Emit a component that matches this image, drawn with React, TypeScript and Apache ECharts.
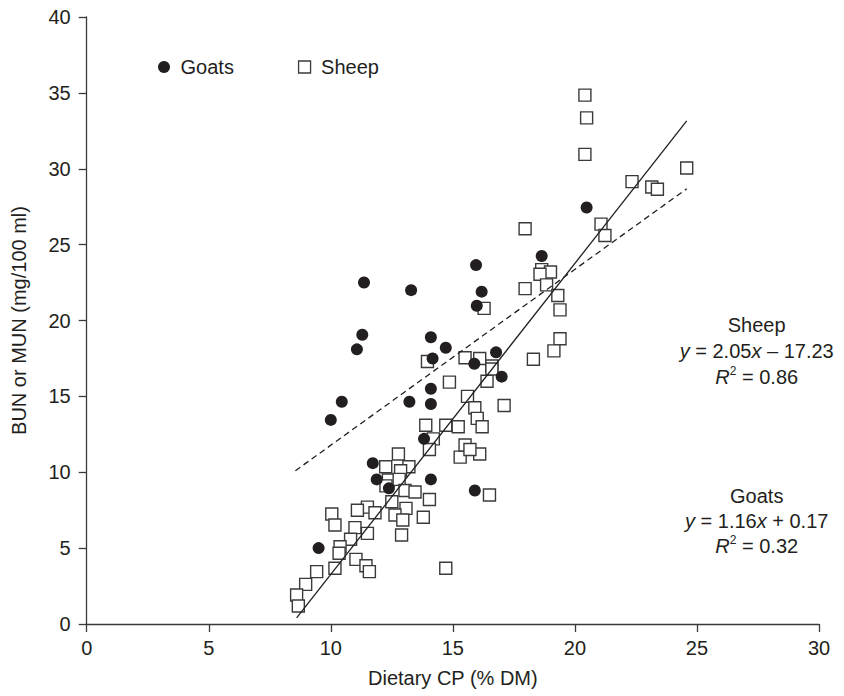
import React, { useEffect, useRef } from "react";
import * as echarts from "echarts";

// Dietary CP (% DM), BUN or MUN (mg/100 ml)
const goats: [number, number][] = [
  [9.5, 5.0], [10.0, 13.45], [10.45, 14.65], [11.07, 18.1], [11.29, 19.06],
  [11.36, 22.5], [11.72, 10.6], [11.88, 9.53], [12.38, 8.94], [13.22, 14.65],
  [13.29, 22.0], [13.82, 12.2], [14.1, 18.9], [14.17, 17.5], [14.1, 15.5],
  [14.1, 14.5], [14.1, 9.53], [14.71, 18.2], [15.88, 17.15], [15.95, 23.65],
  [15.98, 20.97], [16.18, 21.9], [15.9, 8.8], [16.77, 17.9], [17.0, 16.3],
  [18.64, 24.25], [20.48, 27.45],
];

const sheep: [number, number][] = [
  [20.41, 34.85], [20.48, 33.35], [20.41, 30.95], [24.58, 30.05], [22.34, 29.15],
  [23.15, 28.8], [23.38, 28.65], [17.96, 26.05], [21.07, 26.35], [21.23, 25.6],
  [18.64, 23.35], [19.0, 23.2], [18.57, 23.05], [18.84, 22.35], [17.96, 22.1],
  [19.3, 21.65], [19.39, 20.7], [16.28, 20.8], [19.39, 18.8], [19.14, 18.0],
  [18.3, 17.45], [15.5, 17.55], [16.1, 17.5], [16.6, 17.0], [13.96, 17.3],
  [14.86, 15.94], [15.6, 15.0], [15.9, 14.25], [16.0, 13.55], [16.2, 13.0],
  [16.4, 16.0], [16.6, 16.8], [17.1, 14.4], [16.1, 11.2], [15.3, 11.0],
  [15.5, 11.8], [15.7, 11.5], [16.5, 8.5],
  [13.89, 13.1], [14.71, 13.1], [15.22, 13.0], [14.2, 12.2], [14.04, 11.5],
  [12.77, 11.2], [12.25, 10.36], [13.2, 10.36], [12.86, 10.1], [12.36, 9.49],
  [12.8, 9.53], [12.26, 9.1], [13.04, 8.8], [13.45, 8.7], [14.04, 8.2],
  [12.5, 8.06], [11.5, 7.7], [11.09, 7.5], [11.81, 7.33], [13.08, 7.62],
  [12.63, 7.18], [12.95, 6.85], [10.04, 7.25], [10.17, 6.52], [13.79, 7.03],
  [10.99, 6.35], [11.5, 5.97], [12.9, 5.86], [10.81, 5.58], [10.38, 5.09],
  [10.34, 4.66], [11.03, 4.26], [11.44, 3.84], [11.58, 3.45], [10.17, 3.67],
  [9.42, 3.45], [14.71, 3.67], [8.97, 2.61], [8.6, 1.91], [8.67, 1.19],
];

// regression line end points
const sheepFit: [number, number][] = [[8.6, 0.4], [24.58, 33.15]];
const goatFit: [number, number][] = [[8.55, 10.1], [24.58, 28.68]];

const xTicks = { min: 0, max: 30, interval: 5 };
const yTicks = { min: 0, max: 40, interval: 5 };

const sheepNote = ["Sheep", "{i|y} = 2.05{i|x} – 17.23", "{i|R}{s|2} = 0.86"];
const goatNote = ["Goats", "{i|y} = 1.16{i|x} + 0.17", "{i|R}{s|2} = 0.32"];

const FONT = "'Liberation Sans', Arial, Helvetica, sans-serif";
const INK = "#231f20";

export default function App() {
  const ref = useRef<HTMLDivElement>(null);
  useEffect(() => {
    if (!ref.current) return;
    const chart = echarts.init(ref.current, undefined, { renderer: "svg" });
    const rich = {
      i: { fontStyle: "italic", fontSize: 20, fontFamily: FONT, color: INK, lineHeight: 24 },
      s: { fontSize: 12, fontFamily: FONT, color: INK, verticalAlign: "top", lineHeight: 14 },
    };
    const noteEls = (lines: string[], ys: number[]) =>
      lines.map((t, k) => ({
        type: "text",
        x: 756.7,
        y: ys[k],
        style: {
          text: t,
          fontSize: 20,
          fontFamily: FONT,
          fill: INK,
          align: "center",
          verticalAlign: "middle",
          rich,
        },
      }));
    const axisCommon = {
      axisLine: { lineStyle: { color: "#3a3a3a", width: 1.3 } },
      axisTick: { show: true, inside: false, length: 8, lineStyle: { color: "#3a3a3a", width: 1.3 } },
      splitLine: { show: false },
      nameTextStyle: { fontSize: 20, fontFamily: FONT, color: INK },
    };
    chart.setOption({
      animation: false,
      backgroundColor: "#fff",
      textStyle: { fontFamily: FONT, color: INK },
      grid: { left: 86.7, right: 25, top: 17, bottom: 72, containLabel: false, outerBoundsMode: "none" },
      legend: {
        left: 153,
        top: 52,
        itemWidth: 12,
        itemHeight: 12,
        itemGap: 64,
        formatter: (n: string) => " " + n,
        textStyle: { fontSize: 20, fontFamily: FONT, color: INK },
        data: [
          { name: "Goats", icon: "circle" },
          { name: "Sheep", icon: "rect", itemStyle: { color: "#fff", borderColor: "#3a3a3a", borderWidth: 1.3 } },
        ],
        selectedMode: false,
      },
      xAxis: {
        type: "value",
        ...xTicks,
        ...axisCommon,
        name: "Dietary CP (% DM)",
        nameLocation: "middle",
        nameGap: 44,
        axisLabel: { fontSize: 20, fontFamily: FONT, color: INK, margin: 14 },
      },
      yAxis: {
        type: "value",
        ...yTicks,
        ...axisCommon,
        name: "BUN or MUN (mg/100 ml)",
        nameLocation: "middle",
        nameGap: 58,
        axisLabel: { fontSize: 20, fontFamily: FONT, color: INK, margin: 16 },
      },
      series: [
        {
          name: "Sheep",
          type: "scatter",
          symbol: "rect",
          symbolSize: 12,
          data: sheep,
          itemStyle: { color: "#fff", borderColor: "#3a3a3a", borderWidth: 1.4, opacity: 1 },
          z: 2,
        },
        {
          name: "Goats",
          type: "scatter",
          symbol: "circle",
          symbolSize: 12,
          data: goats,
          itemStyle: { color: INK, opacity: 1 },
          z: 3,
        },
        {
          name: "Sheep fit",
          type: "line",
          data: sheepFit,
          symbol: "none",
          lineStyle: { color: INK, width: 1.3 },
          z: 4,
        },
        {
          name: "Goats fit",
          type: "line",
          data: goatFit,
          symbol: "none",
          lineStyle: { color: INK, width: 1.3, type: [6, 4] },
          z: 4,
        },
      ],
      graphic: [
        ...noteEls(sheepNote, [325, 351, 376.5]),
        ...noteEls(goatNote, [496, 521, 546]),
      ],
    });
    return () => chart.dispose();
  }, []);
  return (
    <div
      ref={ref}
      style={{ position: "absolute", left: 0, top: 0, width: 844, height: 696, background: "#fff" }}
    />
  );
}
